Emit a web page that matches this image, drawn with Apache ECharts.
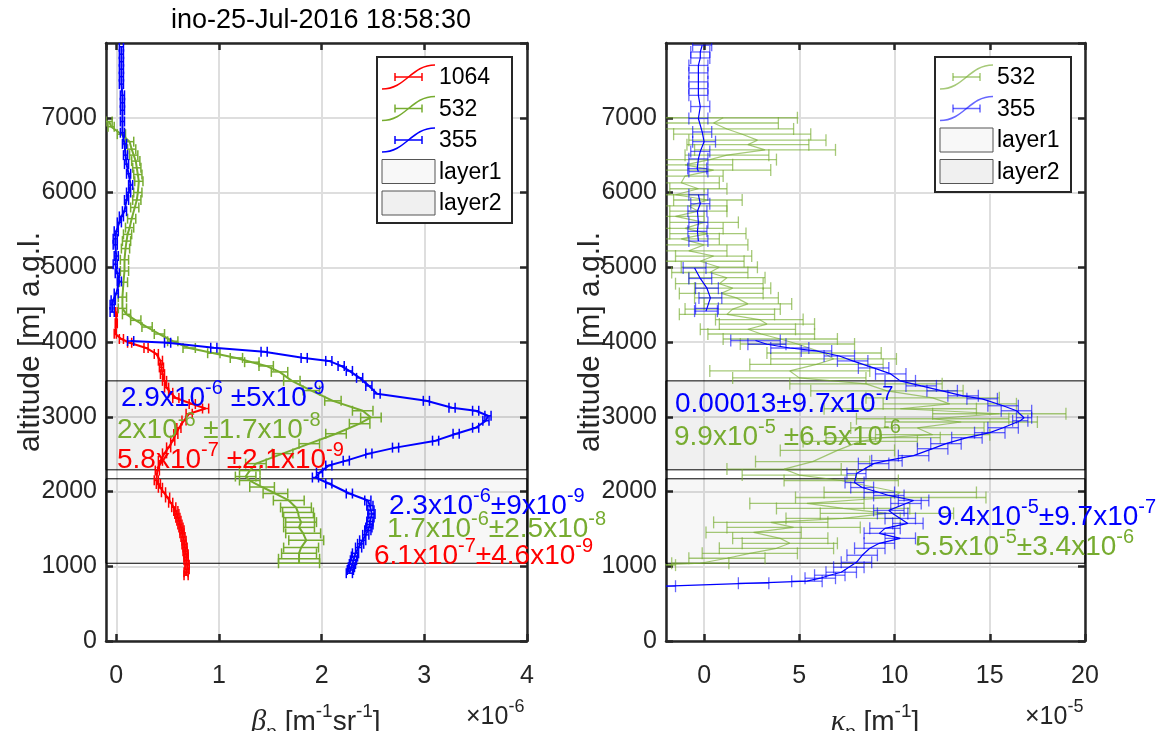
<!DOCTYPE html>
<html lang="en">
<head>
<meta charset="UTF-8">
<title>ino-25-Jul-2016 18:58:30</title>
<script src="https://cdn.jsdelivr.net/npm/echarts@6/dist/echarts.min.js"></script>
<style>
    html, body { margin: 0; padding: 0; background: #fff; }
    #main { width: 1174px; height: 731px; }
</style>
</head>
<body>
<div id="main"></div>
<script>
    // backscatter (x1e-6 m-1 sr-1): [value, altitude m, error], null = gap
    var beta1064 = [
        [0.00, 4400, 0.01], [0.00, 4250, 0.01], [-0.01, 4110, 0.01], [0.05, 4040, 0.02], [0.13, 3990, 0.02],
        [0.29, 3920, 0.02], [0.39, 3840, 0.02], [0.43, 3750, 0.02], [0.44, 3660, 0.02], [0.45, 3570, 0.02],
        [0.47, 3480, 0.02], [0.49, 3390, 0.02], [0.53, 3320, 0.02], [0.58, 3250, 0.03], [0.74, 3170, 0.03],
        [0.87, 3110, 0.03], [0.71, 3040, 0.03], [0.66, 2950, 0.02], [0.61, 2850, 0.02], [0.58, 2770, 0.02],
        [0.55, 2680, 0.02], [0.51, 2590, 0.02], [0.47, 2510, 0.02], [0.43, 2410, 0.02], [0.40, 2280, 0.02],
        [0.39, 2150, 0.02], [0.41, 2100, 0.02], [0.43, 2050, 0.02], [0.46, 1990, 0.02], [0.50, 1920, 0.02],
        [0.53, 1850, 0.02], [0.56, 1790, 0.02], [0.58, 1740, 0.02], [0.59, 1700, 0.02], [0.60, 1650, 0.02],
        [0.61, 1610, 0.02], [0.62, 1560, 0.02], [0.63, 1520, 0.02], [0.64, 1480, 0.02], [0.64, 1440, 0.02],
        [0.65, 1390, 0.02], [0.66, 1340, 0.02], [0.66, 1290, 0.02], [0.67, 1250, 0.02], [0.67, 1200, 0.02],
        [0.68, 1160, 0.02], [0.68, 1120, 0.02], [0.68, 1080, 0.02], [0.69, 1020, 0.02], [0.69, 960, 0.02],
        [0.68, 920, 0.02], [0.68, 880, 0.02]
    ];
    var beta532 = [
        [-0.07, 6950, 0.03], [-0.05, 6880, 0.03], [0.05, 6780, 0.04], [0.13, 6680, 0.04], [0.15, 6580, 0.04],
        [0.17, 6500, 0.04], [0.19, 6420, 0.04], [0.20, 6330, 0.04], [0.21, 6240, 0.04], [0.22, 6150, 0.04],
        [0.21, 6000, 0.04], [0.20, 5900, 0.04], [0.18, 5800, 0.04], [0.15, 5650, 0.04], [0.13, 5530, 0.04],
        [0.11, 5440, 0.04], [0.10, 5350, 0.04], [0.09, 5250, 0.04], [0.08, 5100, 0.04], [0.08, 4950, 0.04],
        [0.07, 4800, 0.04], [0.06, 4600, 0.04], [0.06, 4450, 0.04], [0.10, 4370, 0.04], [0.19, 4290, 0.05],
        [0.30, 4200, 0.05], [0.42, 4107, 0.05], [0.55, 4010, 0.05], [0.71, 3920, 0.06], [0.95, 3850, 0.06],
        [1.17, 3787, 0.06], [1.32, 3730, 0.07], [1.46, 3680, 0.07], [1.59, 3600, 0.08], [1.71, 3480, 0.08],
        [1.90, 3350, 0.08], [2.11, 3213, 0.08], [2.40, 3080, 0.1], [2.48, 2990, 0.1], [2.37, 2907, 0.1],
        [2.14, 2773, 0.1], [1.88, 2640, 0.1], [1.62, 2507, 0.1], [1.36, 2373, 0.1], [1.30, 2280, 0.1],
        [1.26, 2200, 0.1], [1.30, 2147, 0.1], [1.42, 2060, 0.12], [1.55, 1973, 0.12], [1.68, 1880, 0.15],
        [1.75, 1787, 0.15], [1.77, 1720, 0.15], [1.78, 1650, 0.15], [1.80, 1590, 0.15], [1.78, 1520, 0.15],
        [1.82, 1440, 0.17], [1.85, 1347, 0.17], [1.80, 1250, 0.17], [1.78, 1173, 0.17], [1.78, 1100, 0.2],
        [1.78, 1040, 0.2]
    ];
    var beta355 = [
        [0.05, 7950, 0.02], [0.05, 7850, 0.02], [0.05, 7750, 0.02], [0.05, 7650, 0.02], [0.05, 7550, 0.02],
        [0.05, 7450, 0.02], [0.06, 7300, 0.02], [0.06, 7200, 0.02], [0.06, 7100, 0.02], [0.06, 6950, 0.02],
        [0.06, 6800, 0.02], [0.08, 6650, 0.02], [0.09, 6500, 0.02], [0.10, 6380, 0.02], [0.12, 6250, 0.02],
        [0.14, 6100, 0.02], [0.12, 6000, 0.02], [0.10, 5900, 0.02], [0.08, 5750, 0.02], [0.05, 5680, 0.02],
        [0.03, 5600, 0.02], [0.00, 5480, 0.02], [-0.01, 5380, 0.02], [-0.01, 5300, 0.02], [0.00, 5150, 0.02],
        [-0.01, 5040, 0.02], [0.01, 4920, 0.02], [0.03, 4810, 0.02], [0.00, 4650, 0.02], [-0.03, 4560, 0.02],
        [-0.04, 4500, 0.02], [-0.04, 4400, 0.02],
        null,
        [0.14, 4013, 0.03], [0.50, 3990, 0.03], [0.95, 3923, 0.03], [1.44, 3870, 0.03], [1.83, 3787, 0.03],
        [2.07, 3747, 0.03], [2.19, 3680, 0.03], [2.27, 3613, 0.03], [2.37, 3520, 0.03], [2.46, 3413, 0.03],
        [2.54, 3307, 0.03], [3.02, 3213, 0.03], [3.27, 3120, 0.03], [3.50, 3080, 0.03], [3.62, 3013, 0.03],
        [3.60, 2947, 0.03], [3.50, 2853, 0.03], [3.31, 2773, 0.03], [3.11, 2680, 0.03], [2.72, 2587, 0.03],
        [2.46, 2507, 0.03], [2.24, 2413, 0.03], [2.07, 2347, 0.03], [1.98, 2253, 0.03], [1.94, 2187, 0.03],
        [2.07, 2107, 0.03], [2.27, 1973, 0.03], [2.45, 1880, 0.03], [2.47, 1810, 0.03], [2.48, 1750, 0.03],
        [2.49, 1700, 0.03], [2.48, 1653, 0.03], [2.47, 1600, 0.03], [2.47, 1560, 0.03], [2.46, 1520, 0.03],
        [2.45, 1480, 0.03], [2.43, 1420, 0.03], [2.40, 1347, 0.03], [2.38, 1300, 0.03], [2.36, 1250, 0.03],
        [2.33, 1173, 0.03], [2.32, 1130, 0.03], [2.31, 1080, 0.03], [2.30, 1030, 0.03], [2.29, 987, 0.03],
        [2.28, 950, 0.03], [2.27, 907, 0.03]
    ];

    // extinction (x1e-5 m-1): [value, altitude m, error]
    var kappa532 = [
        [1.0, 7000, 3.9], [0.5, 6930, 3.4], [1.2, 6850, 3.5], [2.0, 6780, 3.6], [2.8, 6700, 3.6],
        [2.3, 6640, 3.2], [3.2, 6570, 3.7], [1.2, 6500, 2.2], [0.3, 6440, 3.5], [-1.0, 6370, 2.5],
        [0.5, 6300, 3.0], [-1.0, 6220, 2.0], [-1.2, 6130, 2.0], [-0.3, 6050, 1.5], [-1.5, 5970, 1.5],
        [0.2, 5900, 1.8], [-0.8, 5820, 2.0], [-0.3, 5750, 1.5], [-1.5, 5680, 1.5], [0.0, 5600, 1.8],
        [-1.0, 5520, 2.0], [0.2, 5450, 2.0], [-1.2, 5380, 2.0], [0.0, 5300, 2.3], [-0.8, 5220, 2.0],
        [0.5, 5150, 2.0], [-0.2, 5080, 2.3], [0.8, 5000, 2.0], [0.3, 4930, 2.0], [1.2, 4860, 2.0],
        [0.8, 4780, 2.3], [1.5, 4720, 2.0], [0.9, 4650, 2.2], [1.7, 4590, 2.2], [2.3, 4510, 2.3],
        [1.5, 4440, 2.5], [1.2, 4370, 2.5], [2.9, 4300, 2.3], [3.3, 4240, 2.5], [2.3, 4170, 2.5],
        [3.0, 4107, 2.8], [4.0, 4040, 3.0], [4.9, 3973, 3.0], [6.3, 3853, 3.0], [6.8, 3773, 3.3],
        [5.9, 3700, 3.5], [4.5, 3613, 4.2], [5.0, 3520, 3.5], [8.5, 3440, 4.0], [9.6, 3347, 4.0],
        [12.0, 3253, 3.5], [12.9, 3173, 3.5], [10.3, 3107, 4.0], [15.5, 3040, 3.5], [12.0, 2973, 4.0],
        [13.5, 2930, 4.0], [11.2, 2850, 3.5], [12.0, 2760, 3.0], [9.4, 2720, 3.0], [8.2, 2670, 3.0],
        [7.0, 2550, 3.0], [5.7, 2400, 3.0], [4.2, 2300, 3.0], [5.0, 2220, 3.0], [7.2, 2147, 3.0],
        [10.3, 1987, 4.0], [9.8, 1920, 5.0], [5.4, 1840, 3.0], [7.3, 1773, 3.5], [9.6, 1707, 3.5],
        [7.3, 1640, 3.0], [3.5, 1587, 3.0], [4.7, 1520, 3.5], [2.6, 1453, 2.5], [4.0, 1373, 2.5],
        [4.5, 1307, 2.5], [3.8, 1240, 3.0], [2.4, 1173, 2.5], [1.2, 1107, 2.0], [-0.2, 1040, 1.5],
        [-2.5, 1015, 1.0]
    ];
    var kappa355 = [
        [-0.1, 7970, 0.5], [-0.2, 7880, 0.5], [-0.2, 7800, 0.5], [-0.3, 7700, 0.5], [-0.3, 7600, 0.5],
        [-0.3, 7480, 0.5], [-0.3, 7390, 0.5], [-0.3, 7300, 0.5], [-0.2, 7150, 0.5], [-0.3, 6990, 0.5],
        [-0.1, 6810, 0.5], [0.0, 6680, 0.6], [-0.2, 6550, 0.5], [-0.3, 6450, 0.5], [-0.36, 6320, 0.5],
        [-0.3, 6280, 0.5],
        null,
        [-0.3, 5970, 0.5], [-0.2, 5850, 0.5], [-0.35, 5750, 0.5], [-0.3, 5600, 0.5], [-0.35, 5480, 0.5],
        [-0.3, 5350, 0.5],
        null,
        [-0.5, 4990, 0.6], [-0.2, 4850, 0.6], [0.15, 4720, 0.6], [0.33, 4590, 0.6], [0.15, 4450, 0.6],
        [0.1, 4413, 0.6],
        null,
        [2.7, 4020, 1.3], [3.3, 3970, 1.0], [4.5, 3920, 1.0], [5.9, 3880, 0.8], [7.1, 3813, 0.8],
        [7.8, 3747, 0.8], [8.9, 3653, 0.8], [9.8, 3573, 0.8], [10.3, 3480, 0.8], [11.4, 3413, 0.8],
        [12.5, 3347, 0.8], [13.6, 3280, 0.8], [14.6, 3240, 0.8], [15.7, 3147, 0.8], [16.4, 3080, 0.8],
        [16.8, 2987, 0.4], [16.6, 2947, 0.4], [15.7, 2853, 0.8], [15.0, 2787, 0.8], [13.8, 2720, 0.8],
        [12.7, 2640, 0.8], [12.0, 2573, 0.8], [11.0, 2480, 0.8], [9.6, 2413, 0.8], [8.9, 2373, 0.8],
        [8.0, 2240, 0.5], [7.9, 2120, 0.5], [8.3, 2053, 0.6], [9.2, 1987, 0.8], [9.7, 1947, 0.8],
        [11.0, 1880, 0.8], [10.6, 1840, 0.8], [9.7, 1747, 0.8], [9.9, 1707, 0.8], [10.3, 1640, 0.8],
        [10.7, 1573, 0.8], [9.5, 1507, 0.8], [9.2, 1440, 0.8], [10.3, 1373, 0.8], [9.2, 1307, 0.8],
        [8.7, 1240, 0.8], [8.3, 1147, 0.8], [8.0, 1053, 0.8], [7.6, 987, 0.8], [7.2, 920, 0.8],
        [6.6, 880, 0.8], [6.1, 840, 0.8], [5.4, 800, 0.8], [2.6, 773, 0.8], [-2.0, 733, 0.5]
    ];

    var layerNames = ['layer1', 'layer2'];
    var layerBase = [1040, 2290];
    var layerTop = [2170, 3480];

    // "{-6}" = superscript
    var betaNotes = ['2.9x10{-6} ±5x10{-9}', '2x10{-6} ±1.7x10{-8}', '5.8x10{-7} ±2.1x10{-9}',
        '2.3x10{-6}±9x10{-9}', '1.7x10{-6}±2.5x10{-8}', '6.1x10{-7}±4.6x10{-9}'];
    var kappaNotes = ['0.00013±9.7x10{-7}', '9.9x10{-5} ±6.5x10{-6}',
        '9.4x10{-5}±9.7x10{-7}', '5.5x10{-5}±3.4x10{-6}'];

    var FONT = "'Liberation Sans', Arial, sans-serif";
    var RED = '#FF0000', GREEN = '#77AC30', BLUE = '#0000FF', AX = '#262626';
    var GREEN_L = 'rgba(119,172,48,0.65)', BLUE_L = 'rgba(0,0,255,0.6)';
    var layerFill = ['rgba(0,0,0,0.03)', 'rgba(0,0,0,0.06)'];

    function lineData(arr) {
        return arr.map(function (p) { return p ? [p[0], p[1]] : ['-', '-']; });
    }
    function errData(arr) {
        return arr.filter(function (p) { return p; });
    }
    function errRender(color, cap, lw) {
        return function (params, api) {
            var v = api.value(0), h = api.value(1), e = api.value(2);
            var a = api.coord([v - e, h]), b = api.coord([v + e, h]);
            var st = {stroke: color, lineWidth: lw, fill: null};
            return {
                type: 'group', children: [
                    {type: 'line', shape: {x1: a[0], y1: a[1], x2: b[0], y2: b[1]}, style: st},
                    {type: 'line', shape: {x1: a[0], y1: a[1] - cap, x2: a[0], y2: a[1] + cap}, style: st},
                    {type: 'line', shape: {x1: b[0], y1: b[1] - cap, x2: b[0], y2: b[1] + cap}, style: st}
                ]
            };
        };
    }
    function layerRender(params, api) {
        var cs = params.coordSys;
        var y0 = api.coord([0, api.value(0)])[1];
        var y1 = api.coord([0, api.value(1)])[1];
        return {
            type: 'rect',
            shape: {x: cs.x, y: y1, width: cs.width, height: y0 - y1},
            style: {fill: layerFill[api.value(2)], stroke: '#000', lineWidth: 1}
        };
    }
    var layerData = layerNames.map(function (n, i) { return [layerBase[i], layerTop[i], i]; });

    // superscript by line boxes: base centred in a tall line, exponent at its top
    function supRich(color, size, raise) {
        var ss = Math.round(size * 0.7), lh = size + 12;
        return {
            b: {fontSize: size, fontFamily: FONT, fill: color, lineHeight: lh, verticalAlign: 'middle'},
            s: {fontSize: ss, fontFamily: FONT, fill: color, lineHeight: lh - 2 * raise, verticalAlign: 'top'}
        };
    }
    function toRich(txt) {
        return '{b|' + txt.replace(/\{(-?\d+)\}/g, '}{s|$1}{b|') + '}';
    }
    function note(txt, x, y, color) {
        return {
            type: 'text', x: x, y: y, z: 100,
            style: {text: toRich(txt), rich: supRich(color, 28, 10.5), align: 'left', verticalAlign: 'middle'}
        };
    }

    // x axis titles with greek letter, subscript and superscripts
    var nameRich = {
        g: {fontSize: 30, fontFamily: "'Liberation Serif', serif", fontStyle: 'italic', fill: AX, lineHeight: 40, verticalAlign: 'middle'},
        sub: {fontSize: 19, fontFamily: FONT, fill: AX, lineHeight: 6, verticalAlign: 'bottom'},
        t: {fontSize: 28, fontFamily: FONT, fill: AX, lineHeight: 40, verticalAlign: 'middle'},
        sup: {fontSize: 19, fontFamily: FONT, fill: AX, lineHeight: 20, verticalAlign: 'top'}
    };
    function axisTitle(txt, x) {
        return {type: 'text', x: x, y: 722, z: 100,
            style: {text: txt, rich: nameRich, align: 'center', verticalAlign: 'middle'}};
    }

    // legend drawn as graphic (MATLAB errorbar icon)
    function legendBox(x, y, w, h, entries) {
        var ch = [{type: 'rect', z: 100, shape: {x: x, y: y, width: w, height: h},
            style: {fill: '#fff', stroke: AX, lineWidth: 2}}];
        entries.forEach(function (en, i) {
            var cy = y + 20 + i * 31.5, ix = x + 5;
            if (en.layer !== undefined) {
                ch.push({type: 'rect', z: 101, shape: {x: ix, y: cy - 12, width: 53, height: 24},
                    style: {fill: en.fill, stroke: '#555', lineWidth: 1}});
            } else {
                ch.push({type: 'bezierCurve', z: 101,
                    shape: {x1: ix, y1: cy + 12, cpx1: ix + 24, cpy1: cy + 12, cpx2: ix + 29, cpy2: cy - 12, x2: ix + 53, y2: cy - 12},
                    style: {stroke: en.color, lineWidth: 1.5, fill: null}});
                ch.push({type: 'polyline', z: 101, shape: {points: [[ix + 13, cy], [ix + 40, cy]]},
                    style: {stroke: en.color, lineWidth: 1.5}});
                ch.push({type: 'polyline', z: 101, shape: {points: [[ix + 13, cy - 4], [ix + 13, cy + 4]]},
                    style: {stroke: en.color, lineWidth: 1.5}});
                ch.push({type: 'polyline', z: 101, shape: {points: [[ix + 40, cy - 4], [ix + 40, cy + 4]]},
                    style: {stroke: en.color, lineWidth: 1.5}});
            }
            ch.push({type: 'text', z: 101, x: ix + 57, y: cy + 1,
                style: {text: en.name, fontSize: 23, fontFamily: FONT, fill: '#000', verticalAlign: 'middle'}});
        });
        return {type: 'group', z: 100, children: ch};
    }

    function plainNum(v) { return String(v); }

    function xAxes(grid, min, max) {
        return [{
            gridIndex: grid, type: 'value', min: min, max: max, position: 'bottom',
            axisLine: {onZero: false, lineStyle: {color: AX, width: 2.5}},
            axisTick: {inside: true, length: 7, lineStyle: {color: AX, width: 2.5}},
            axisLabel: {fontSize: 25, color: AX, fontFamily: FONT, margin: 23, showMinLabel: false, formatter: plainNum},
            splitLine: {show: true, lineStyle: {color: '#dedede', width: 2}}
        }, {
            gridIndex: grid, type: 'value', min: min, max: max, position: 'top',
            axisLine: {onZero: false, lineStyle: {color: AX, width: 2.5}},
            axisTick: {inside: true, length: 7, lineStyle: {color: AX, width: 2.5}},
            axisLabel: {show: false}, splitLine: {show: false}
        }];
    }
    function yAxes(grid) {
        return [{
            gridIndex: grid, type: 'value', min: 0, max: 8000, interval: 1000, position: 'left',
            axisLine: {onZero: false, lineStyle: {color: AX, width: 2.5}},
            axisTick: {inside: true, length: 7, lineStyle: {color: AX, width: 2.5}},
            axisLabel: {fontSize: 25, color: AX, fontFamily: FONT, margin: 9, showMaxLabel: false, formatter: plainNum},
            splitLine: {show: true, lineStyle: {color: '#dedede', width: 2}},
            name: 'altitude [m] a.g.l.', nameLocation: 'middle', nameGap: 60, nameMoveOverlap: false,
            nameTextStyle: {fontSize: 30, color: AX, fontFamily: FONT}
        }, {
            gridIndex: grid, type: 'value', min: 0, max: 8000, interval: 1000, position: 'right',
            axisLine: {onZero: false, lineStyle: {color: AX, width: 2.5}},
            axisTick: {inside: true, length: 7, lineStyle: {color: AX, width: 2.5}},
            axisLabel: {show: false}, splitLine: {show: false}
        }];
    }

    var myChart = echarts.init(document.getElementById('main'));
    var option = {
        backgroundColor: '#fff',
        animation: false,
        title: {
            text: 'ino-25-Jul-2016 18:58:30', left: 316, top: 2, textAlign: 'center',
            textStyle: {fontSize: 27, fontWeight: 'normal', color: '#000', fontFamily: FONT}
        },
        grid: [
            {left: 106, top: 43, width: 421, height: 598, containLabel: false, outerBoundsMode: 'none'},
            {left: 666, top: 43, width: 419, height: 598, containLabel: false, outerBoundsMode: 'none'}
        ],
        xAxis: xAxes(0, -0.1, 4).concat(xAxes(1, -2, 20)),
        yAxis: yAxes(0).concat(yAxes(1)),
        series: [
            {type: 'custom', xAxisIndex: 0, yAxisIndex: 0, renderItem: layerRender, data: layerData, z: 1, encode: {y: [0, 1]}, silent: true},
            {type: 'custom', xAxisIndex: 2, yAxisIndex: 2, renderItem: layerRender, data: layerData, z: 1, encode: {y: [0, 1]}, silent: true},

            {name: '1064', type: 'line', xAxisIndex: 0, yAxisIndex: 0, data: lineData(beta1064), showSymbol: false,
                lineStyle: {color: RED, width: 2}, z: 3},
            {type: 'custom', xAxisIndex: 0, yAxisIndex: 0, data: errData(beta1064), renderItem: errRender(RED, 5, 1.5),
                encode: {x: 0, y: 1}, clip: true, z: 3},
            {name: '532', type: 'line', xAxisIndex: 0, yAxisIndex: 0, data: lineData(beta532), showSymbol: false,
                lineStyle: {color: GREEN, width: 2}, z: 4},
            {type: 'custom', xAxisIndex: 0, yAxisIndex: 0, data: errData(beta532), renderItem: errRender(GREEN, 5, 1.5),
                encode: {x: 0, y: 1}, clip: true, z: 4},
            {name: '355', type: 'line', xAxisIndex: 0, yAxisIndex: 0, data: lineData(beta355), showSymbol: false,
                lineStyle: {color: BLUE, width: 2}, z: 5},
            {type: 'custom', xAxisIndex: 0, yAxisIndex: 0, data: errData(beta355), renderItem: errRender(BLUE, 5, 1.5),
                encode: {x: 0, y: 1}, clip: true, z: 5},

            {name: '532', type: 'line', xAxisIndex: 2, yAxisIndex: 2, data: lineData(kappa532), showSymbol: false,
                lineStyle: {color: GREEN_L, width: 1.2}, z: 3, clip: true},
            {type: 'custom', xAxisIndex: 2, yAxisIndex: 2, data: errData(kappa532), renderItem: errRender(GREEN_L, 6, 1.3),
                encode: {x: 0, y: 1}, clip: true, z: 3},
            {name: '355', type: 'line', xAxisIndex: 2, yAxisIndex: 2, data: lineData(kappa355), showSymbol: false,
                lineStyle: {color: BLUE, width: 1.2}, z: 4, clip: true},
            {type: 'custom', xAxisIndex: 2, yAxisIndex: 2, data: errData(kappa355), renderItem: errRender(BLUE_L, 6, 1.3),
                encode: {x: 0, y: 1}, clip: true, z: 4}
        ],
        graphic: [
            legendBox(377, 57, 135, 166, [
                {name: '1064', color: RED}, {name: '532', color: GREEN}, {name: '355', color: BLUE},
                {name: 'layer1', layer: 0, fill: '#f8f8f8'}, {name: 'layer2', layer: 1, fill: '#f0f0f0'}
            ]),
            legendBox(935, 57, 136, 135, [
                {name: '532', color: GREEN_L}, {name: '355', color: BLUE_L},
                {name: 'layer1', layer: 0, fill: '#f8f8f8'}, {name: 'layer2', layer: 1, fill: '#f0f0f0'}
            ]),
            note(betaNotes[0], 121, 398, BLUE),
            note(betaNotes[1], 117, 430, GREEN),
            note(betaNotes[2], 117, 460, RED),
            note(betaNotes[3], 389, 506, BLUE),
            note(betaNotes[4], 387, 529, GREEN),
            note(betaNotes[5], 374, 556, RED),
            note(kappaNotes[0], 675, 404, BLUE),
            note(kappaNotes[1], 674, 437, GREEN),
            note(kappaNotes[2], 937, 517, BLUE),
            note(kappaNotes[3], 915, 547, GREEN),
            axisTitle('{g|β}{sub|p}{t| [m}{sup|-1}{t|sr}{sup|-1}{t|]}', 316),
            axisTitle('{g|κ}{sub|p}{t| [m}{sup|-1}{t|]}', 875),
            {type: 'text', x: 466, y: 717, z: 100,
                style: {text: toRich('×10{-6}'), rich: supRich(AX, 25, 10), align: 'left', verticalAlign: 'middle'}},
            {type: 'text', x: 1025, y: 717, z: 100,
                style: {text: toRich('×10{-5}'), rich: supRich(AX, 25, 10), align: 'left', verticalAlign: 'middle'}}
        ]
    };
    myChart.setOption(option);
</script>
</body>
</html>
